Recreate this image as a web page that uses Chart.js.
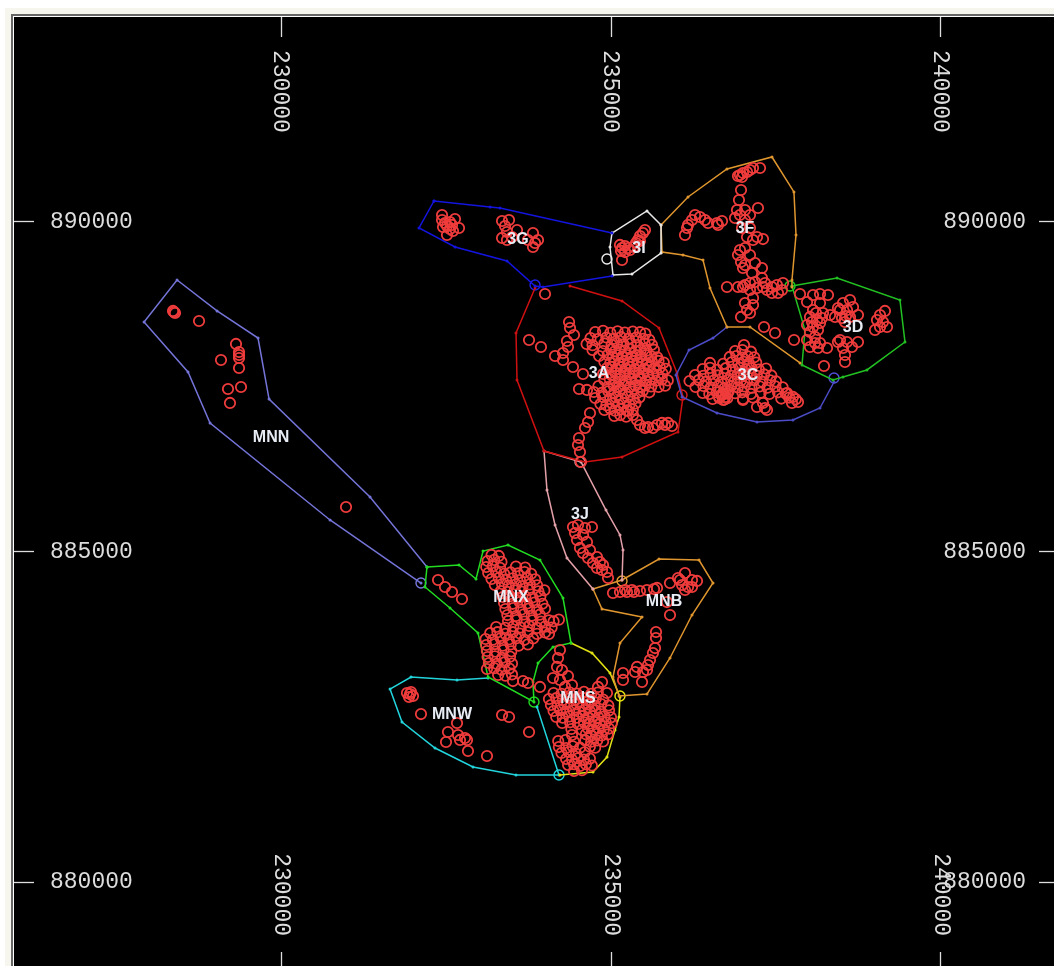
<!DOCTYPE html>
<html>
<head>
<meta charset="utf-8">
<title>Zones</title>
<script src="https://cdn.jsdelivr.net/npm/chart.js@4"></script>
<style>
html, body { margin: 0; height: 100%; background: #fff; overflow: hidden; }
#edge { position: absolute; left: 5px; top: 8px; width: 1100px; height: 1000px; background: #f6f6ee; }
#frame { position: absolute; left: 11px; top: 14px; width: 1100px; height: 1000px; background: #fff; border-left: 2px solid #666; border-top: 2px solid #666; }
#map { position: absolute; left: 14px; top: 17px; background: #000; filter: blur(0.4px); }
</style>
</head>
<body>
<div id="edge"></div>
<div id="frame"></div>
<canvas id="map" width="1045" height="955" style="width:1045px;height:955px"></canvas>
<script>
// Grid ticks (metres)
const eastTicks = [230000, 235000, 240000];
const northTicks = [880000, 885000, 890000];

// Zone labels
const zoneNames = ['3G', '3I', '3F', '3D', '3A', '3C', '3J', 'MNN', 'MNX', 'MNB', 'MNS', 'MNW'];
const zoneEast = [233591, 235424, 237030, 238667, 234818, 237076, 234530, 229849, 233485, 235803, 234500, 232591];
const zoneNorth = [889727, 889591, 889894, 888394, 887697, 887667, 885561, 886727, 884303, 884242, 882773, 882530];

// Zone outlines
const line3G = [[232318,890318],[233167,890227],[233318,890212],[235015,889833]];
const line3Gb = [[235015,889182],[233970,889015],[233849,889030],[233424,889409],[232637,889621],[232091,889909],[232318,890318]];
const line3I = [[235015,889833],[235545,890167],[235758,889955],[235758,889530],[235318,889212],[235030,889197],[234985,889621],[235015,889833]];
const line3F = [[237864,887864],[237106,888409],[236757,888409],[236500,889000],[236394,889424],[236091,889500],[235773,889545],[235758,889955],[236167,890379],[236757,890803],[237439,890985],[237772,890455],[237803,889803],[237742,889121],[237742,889015]];
const line3D = [[237742,889030],[238424,889152],[239378,888818],[239454,888182],[238878,887758],[238515,887652],[238363,887606],[237894,887833],[237939,888364],[237742,889030]];
const line3C = [[236757,888409],[236545,888242],[236182,888061],[235985,887682],[236076,887349],[236606,887106],[237212,886970],[237757,887000],[238167,887182],[238379,887576]];
const line3A = [[233849,889000],[233561,888318],[233576,887606],[233985,886530],[234606,886364],[235167,886439],[236015,886818],[236091,887349],[236000,887712],[235727,888394],[235167,888803],[234379,889030]];
const line3J = [[234727,884439],[234333,884909],[234152,885409],[234030,885939],[233985,886530],[234545,886364],[234924,885636],[235136,885258],[235182,885030],[235167,884576]];
const lineMNB = [[234727,884439],[234864,884136],[235470,884015],[235136,883621],[235030,883106],[235121,882818],[235545,882848],[235894,883394],[236227,884045],[236545,884530],[236333,884879],[235727,884894],[235167,884576],[234727,884439]];
const lineMNX = [[232212,884773],[232697,884803],[232955,884591],[233061,885015],[233440,885106],[233924,884879],[234273,884303],[234394,883621],[234121,883561],[233894,883318],[233818,883030],[233833,882727],[233137,883106],[232985,883773],[232561,884152],[232182,884470],[232212,884773]];
const lineMNS = [[234394,883621],[234712,883470],[234985,883167],[235136,882803],[235121,882500],[235061,882303],[234939,881894],[234727,881667],[234227,881621]];
const lineMNW = [[233137,883091],[232667,883061],[231970,883106],[231652,882924],[231833,882424],[232333,882030],[232909,881742],[233561,881621],[234212,881621],[233879,882652]];
const lineMNN = [[232212,884773],[231349,885833],[229819,887318],[229652,888242],[229031,888652],[228425,889121],[227925,888485],[228591,887727],[228925,886955],[230743,885485],[232121,884530]];

// Shared corner markers
const cornerEast = [233849, 234939, 236076, 234530, 237712, 238379, 235167, 235136, 233833, 234212, 232121];
const cornerNorth = [889045, 889439, 887379, 886364, 889030, 887636, 884561, 882818, 882727, 881621, 884530];
const cornerColors = ['#2020e8', '#eeeeee', '#e02020', '#e8a8b0', '#20d020', '#5050d8', '#e89a30', '#e8e810', '#20d820', '#20d8e0', '#7878e0'];

// Sites, by zone
const sitesMNN = [[228379,888636],[228394,888621],[228364,888652],[228758,888500],[229318,888152],[229364,888030],[229364,887985],[229364,887939],[229091,887909],[229364,887788],[229394,887500],[229197,887470],[229227,887258],[230985,885682]];
const sites3G = [[232440,890106],[232440,890030],[232455,889924],[232515,889803],[232560,890000],[232636,890045],[232697,889909],[232560,889894],[232515,889939],[232591,889955],[232485,889985],[232606,889864],
  [233349,890015],[233455,890030],[233394,889939],[233349,889758],[233424,889848],[233818,889833],[233894,889727],[233818,889621],[233742,889727],[233576,889879],[233500,889773],[233849,889682],[233424,889727]];
const sites3I = [[235136,889652],[235167,889606],[235212,889636],[235258,889606],[235152,889561],[235212,889545],[235288,889576],[235348,889621],[235379,889682],[235409,889727],[235439,889788],[235485,889833],[235515,889879],[235439,889712],[235167,889424]];
const sites3A = [[234000,888909],[233758,888212],[233939,888106],[234364,888485],[234379,888394],[234439,888288],[234333,888197],[234348,888106],[234273,888015],[234152,887970],[234273,887909],[234424,887803],[234576,887697],[234515,887470],[234636,887455],
  [234682,887106],[234652,886970],[234606,886879],[234515,886727],[234500,886621],[234530,886515],[234545,886364],
  [235333,887076],[235439,886924],[235561,886894],[235697,886924],[235818,886924],[235924,886909],[235515,886879],[235636,886879],[235773,886955],[235864,886955],[235394,887000],[235258,887136],
  [234760,888333],[234880,888350],[234990,888320],[235100,888345],[235210,888325],[235330,888340],[235440,888330],[235520,888310],
  [234690,888242],[234800,888225],[234930,888250],[235040,888230],[235150,888255],[235270,888235],[235380,888250],[235490,888230],[235580,888215],
  [234630,888152],[234720,888135],[234900,888160],[235010,888140],[235090,888165],[235190,888145],[235300,888160],[235400,888135],[235510,888155],[235620,888140],
  [234720,888061],[234880,888045],[235000,888070],[235060,888040],[235130,888065],[235210,888050],[235290,888075],[235370,888045],[235450,888060],[235540,888050],[235650,888065],
  [234820,887970],[234950,887985],[235030,887955],[235100,887980],[235170,887960],[235240,887985],[235310,887955],[235380,887980],[235450,887960],[235530,887985],[235610,887965],[235700,887950],
  [234900,887879],[234990,887865],[235050,887890],[235120,887860],[235190,887885],[235260,887865],[235330,887895],[235400,887870],[235470,887885],[235540,887860],[235620,887880],[235720,887895],[235800,887870],
  [234940,887788],[235010,887805],[235080,887775],[235150,887800],[235220,887780],[235290,887805],[235360,887770],[235430,887795],[235500,887775],[235570,887800],[235650,887780],[235740,887795],[235830,887775],
  [234880,887697],[235000,887685],[235070,887710],[235140,887680],[235210,887705],[235280,887690],[235350,887710],[235420,887680],[235490,887705],[235560,887685],[235640,887700],[235710,887680],[235780,887705],
  [234900,887606],[234980,887620],[235060,887590],[235130,887615],[235220,887595],[235300,887620],[235380,887600],[235450,887615],[235530,887590],[235590,887610],[235680,887595],[235770,887615],[235860,887600],
  [234810,887515],[234950,887500],[235040,887525],[235120,887505],[235200,887530],[235290,887500],[235370,887520],[235440,887505],[235520,887525],[235610,887510],[235720,887500],[235820,887520],
  [234740,887424],[234860,887410],[234960,887435],[235050,887415],[235130,887440],[235220,887410],[235310,887430],[235400,887415],[235480,887440],[235580,887420],
  [234760,887333],[234880,887350],[234990,887320],[235070,887345],[235160,887325],[235250,887350],[235340,887320],[235430,887340],
  [234840,887242],[234930,887225],[235020,887250],[235110,887230],[235190,887255],[235280,887235],[235370,887250],
  [234900,887152],[234990,887170],[235060,887140],[235150,887165],[235240,887145],[235330,887160],
  [235050,887061],[235140,887075],[235230,887050]];
const sites3C = [[237015,888136],[236880,888045],[236990,888060],[237120,888035],[236800,887955],[236900,887970],[236990,887945],[237070,887965],[237170,887950],
  [236500,887864],[236700,887850],[236830,887875],[236930,887855],[237010,887880],[237090,887860],[237200,887870],
  [236390,887773],[236500,887790],[236610,887760],[236740,887785],[236850,887765],[236950,887790],[237040,887770],[237130,887785],[237240,887765],[237350,887780],
  [236273,887682],[236400,887670],[236510,887695],[236620,887675],[236720,887700],[236820,887670],[236920,887690],[237010,887675],[237110,887695],[237210,887670],[237320,887690],[237430,887675],
  [236190,887591],[236330,887605],[236440,887580],[236560,887600],[236670,887575],[236770,887605],[236870,887585],[236970,887600],[237060,887580],[237170,887605],[237290,887580],[237410,887600],[237500,887585],
  [236280,887500],[236400,887515],[236510,887490],[236620,887510],[236720,887485],[236820,887515],[236920,887495],[237020,887510],[237130,887490],[237250,887510],[237370,887490],[237490,887510],[237600,887495],
  [236390,887409],[236490,887395],[236600,887420],[236690,887400],[236780,887425],[236880,887405],[236990,887420],[237120,887395],[237270,887415],[237400,887395],[237530,887420],[237650,887400],
  [236540,887318],[236640,887335],[236700,887305],[236760,887330],[237000,887318],[237150,887340],[237580,887325],[237700,887340],[237800,887315],
  [236680,887380],[236730,887350],[236700,887400],[236760,887400],[236640,887350],[236720,887310],
  [237303,887258],[237333,887182],[237212,887197],[237364,887152],[237757,887349],[237833,887273],[237742,887258],[237667,887409],[237000,887303]];
const sites3F = [[236954,890712],[237000,890742],[236924,890697],[237061,890758],[236985,890682],[237152,890818],[237258,890818],[237106,890788],
  [236970,890485],[236939,890333],[236909,890182],[236954,890106],[237030,890182],[237106,890106],[237227,890212],[236879,890061],[237030,890030],[236985,889909],[237106,889909],[237061,889773],[237212,889773],[237303,889742],[237152,889727],
  [236273,890106],[236348,890076],[236424,890030],[236227,890030],[236167,889955],[236121,889803],[236152,889909],[236470,889985],[236606,889985],[236682,890015],[236621,889955],
  [236954,889576],[237030,889606],[236924,889500],[237106,889500],[236970,889394],[237030,889348],[237182,889379],[237288,889303],[237136,889227],[237000,889303],
  [236757,889015],[236924,889015],[237030,889045],[237106,889076],[237182,889091],[237288,889152],[237303,889015],[237212,889000],[237364,888970],[237439,888924],[237530,888924],[237515,889045],[237606,889076],[237591,888970],[237106,888970],[237000,889015],[237439,889015],[237333,889076],
  [237152,888848],[237030,888773],[237152,888742],[237106,888621],[236970,888561],[237061,888667],[237318,888409],[237485,888318],[237773,888212]];
const sites3D = [[237864,888909],[237970,888788],[238061,888894],[238167,888909],[238288,888894],[238167,888773],[238621,888818],[238515,888773],[238576,888667],[238470,888667],[238667,888712],[238742,888591],[238621,888561],[238394,888561],[238318,888591],[238212,888621],[238500,888545],[238545,888485],
  [238061,888667],[238015,888561],[238121,888515],[238197,888545],[237970,888439],[238061,888409],[238167,888470],[238015,888333],[238091,888258],[238167,888167],[238273,888091],[238015,888106],[238091,888167],[237970,888212],[238136,888091],
  [238470,888212],[238576,888182],[238742,888182],[238651,888106],[238515,888091],[238545,887985],[238545,887879],[238439,888182],
  [239151,888652],[239076,888591],[239030,888515],[239121,888485],[239182,888409],[239000,888364],[239076,888409],[238227,887818],
  [238106,888621],[238045,888485],[238136,888364],[238439,888697],[238560,888576]];
const sites3J = [[234424,885379],[234500,885409],[234606,885364],[234712,885379],[234455,885288],[234576,885258],[234485,885182],[234636,885152],[234530,885061],[234682,885030],[234576,884985],[234652,884909],[234788,884924],[234833,884848],[234727,884833],[234879,884803],[234939,884697],[234788,884758],[234864,884727],[234955,884606]];
const sitesMNB = [[235030,884379],[235136,884394],[235242,884394],[235348,884394],[235439,884409],[235545,884424],[235652,884439],[235697,884455],[235212,884424],[235318,884424],
  [235894,884530],[236015,884606],[236121,884682],[236227,884576],[236303,884561],[236076,884500],[236167,884470],[236121,884424],[235894,884045],[235848,884242],[236045,884576],[236227,884470],
  [235682,883788],[235682,883697],[235667,883545],[235636,883470],[235591,883364],[235561,883288],[235394,883258],[235364,883182],[235485,883182],[235470,883030],[235182,883167],[235182,883061],[235545,883212]];
const sitesMNW = [[231909,882864],[231955,882848],[232000,882818],[231939,882803],[231970,882879],[232121,882545],[233349,882530],[233455,882500],[233758,882273],[233121,881909],[232667,882409],[232530,882273],[232500,882121],[232682,882227],[232712,882152],[232818,882152],[232833,881985],[232788,882182]];
const sitesMNX = [[233190,884955],[233300,884940],[233130,884864],[233230,884880],[233340,884850],
  [233110,884773],[233210,884785],[233320,884760],[233560,884780],[233700,884765],
  [233140,884682],[233260,884695],[233380,884670],[233480,884690],[233590,884675],[233690,884695],[233790,884670],
  [233190,884591],[233300,884605],[233410,884580],[233510,884600],[233620,884575],[233730,884605],[233850,884585],
  [233240,884500],[233350,884515],[233450,884490],[233560,884510],[233660,884485],[233770,884510],[233880,884495],
  [233330,884409],[233430,884395],[233540,884420],[233640,884400],[233760,884425],[233900,884405],[233990,884420],
  [233360,884318],[233470,884330],[233590,884305],[233700,884325],[233810,884310],[233930,884330],
  [233380,884227],[233510,884215],[233620,884240],[233730,884220],[233840,884235],[233960,884215],
  [233400,884136],[233520,884150],[233640,884125],[233760,884145],[233880,884125],[234000,884140],
  [233430,884045],[233560,884030],[233680,884055],[233800,884035],[233920,884050],
  [233440,883955],[233570,883970],[233690,883945],[233810,883965],[233940,883945],[234060,883965],[234130,883950],[234210,883975],
  [233260,883864],[233400,883850],[233520,883875],[233630,883855],[233760,883880],[233880,883850],[234000,883870],[234100,883855],
  [233170,883773],[233280,883785],[233400,883760],[233510,883785],[233620,883765],[233740,883785],[233880,883760],[234000,883780],[234060,883760],
  [233100,883682],[233210,883670],[233330,883695],[233450,883675],[233570,883695],[233690,883670],[233820,883690],
  [233110,883591],[233240,883605],[233360,883580],[233480,883600],[233600,883580],[233740,883600],
  [233120,883500],[233250,883490],[233370,883515],[233490,883495],
  [233130,883409],[233240,883420],[233350,883395],[233470,883415],
  [233150,883318],[233270,883305],[233390,883330],[233500,883310],
  [233120,883227],[233230,883240],[233340,883215],[233460,883235],
  [233290,883136],[233400,883125],[233500,883145],
  [233515,883045],[233667,883045],[233742,883015],[233924,882955],
  [232379,884576],[232485,884470],[232591,884394],[232742,884288]];
const sitesMNS = [[234227,883515],[234197,883394],[234182,883258],[234258,883212],[234121,883091],[234348,883121],[234227,883061],[234409,882985],[234303,882955],[234864,883030],[234803,882955],[234939,882864],
  [234130,882864],[234250,882850],[234370,882875],[234480,882855],[234590,882880],[234700,882850],[234800,882870],
  [234060,882773],[234170,882785],[234270,882760],[234370,882785],[234470,882765],[234570,882790],[234670,882760],[234770,882780],[234880,882765],
  [234090,882682],[234190,882670],[234290,882695],[234390,882675],[234480,882695],[234570,882670],[234660,882690],[234750,882670],[234850,882695],[234960,882675],
  [234130,882591],[234230,882605],[234330,882580],[234430,882600],[234520,882580],[234600,882605],[234680,882585],[234760,882600],[234850,882580],[234970,882600],
  [234170,882500],[234270,882490],[234370,882510],[234480,882490],[234580,882515],[234660,882490],[234730,882510],[234810,882490],[234900,882510],[235000,882495],
  [234260,882409],[234380,882420],[234500,882395],[234590,882420],[234670,882400],[234750,882425],[234830,882400],[234920,882420],[235010,882405],
  [234400,882318],[234560,882305],[234650,882330],[234730,882310],[234810,882330],[234890,882305],[234970,882325],
  [234409,882227],[234620,882240],[234700,882215],[234780,882240],[234860,882220],[234950,882235],
  [234200,882136],[234310,882150],[234440,882125],[234610,882145],[234700,882125],[234790,882145],[234880,882130],
  [234210,882045],[234320,882030],[234420,882055],[234530,882035],[234680,882050],[234760,882035],
  [234250,881955],[234360,881970],[234470,881945],[234600,881965],
  [234320,881864],[234410,881850],[234500,881875],[234590,881855],[234680,881870],
  [234350,881773],[234440,881785],[234530,881760],[234620,881785],[234710,881765],
  [234440,881682],[234560,881695]];

const outlines = [
  { pts: line3G, color: '#1414e0' }, { pts: line3Gb, color: '#1414e0' }, { pts: line3I, color: '#e8e8e8' },
  { pts: line3F, color: '#e0962e' }, { pts: line3D, color: '#22c022' }, { pts: line3C, color: '#4c4cc8' },
  { pts: line3A, color: '#d01010' }, { pts: line3J, color: '#e4a0a8' }, { pts: lineMNB, color: '#e0962e' },
  { pts: lineMNX, color: '#22dc22' }, { pts: lineMNS, color: '#e0e014' }, { pts: lineMNW, color: '#22d4dc' },
  { pts: lineMNN, color: '#7474d8' }
];

const allSites = [].concat(sitesMNN, sites3G, sites3I, sites3A, sites3C, sites3F, sites3D, sites3J, sitesMNB, sitesMNW, sitesMNX, sitesMNS);
const toXY = p => ({ x: p[0], y: p[1] });

const datasets = [{
  data: allSites.map(toXY),
  showLine: false,
  pointRadius: 5.2,
  pointBorderWidth: 1.8,
  pointBorderColor: '#f03c3c',
  pointBackgroundColor: 'transparent'
}];
outlines.forEach(o => datasets.push({
  data: o.pts.map(toXY),
  showLine: true,
  borderColor: o.color,
  borderWidth: 1.5,
  tension: 0,
  pointRadius: 1.5,
  pointBorderWidth: 0,
  pointBackgroundColor: o.color
}));
datasets.push({
  data: cornerEast.map((e, i) => ({ x: e, y: cornerNorth[i] })),
  showLine: false,
  pointRadius: 5,
  pointBorderWidth: 1.4,
  pointBorderColor: cornerColors,
  pointBackgroundColor: 'transparent'
});

// Zone names, placed through the scales
const zoneLabels = {
  id: 'zoneLabels',
  afterDatasetsDraw(chart) {
    const c = chart.ctx;
    c.save();
    c.font = 'bold 16px "Liberation Sans"';
    c.fillStyle = '#e8edf5';
    c.textAlign = 'center';
    c.textBaseline = 'middle';
    zoneNames.forEach((n, i) => {
      c.fillText(n, chart.scales.x.getPixelForValue(zoneEast[i]), chart.scales.y.getPixelForValue(zoneNorth[i]));
    });
    c.restore();
  }
};

const tickFont = { family: '"Liberation Mono"', size: 23, lineHeight: 1.2 };
const tickGrid = { drawOnChartArea: false, drawTicks: true, tickLength: -20, tickColor: '#dddddd', tickWidth: 1.3 };
const eastRange = { min: 225954.5, max: 241787.9 };
const northRange = { min: 878636.4, max: 893106 };

// Axes take no room: the map fills the canvas and the ticks sit inside it.
// mirror keeps the labels out of the zero-size axis clip box.
function zeroBox(s) {
  s.paddingLeft = 0; s.paddingRight = 0; s.paddingTop = 0; s.paddingBottom = 0;
  if (s.isHorizontal()) s.height = 0; else s.width = 0;
}
function eastAxis(position, padding, offset) {
  return {
    type: 'linear', position: position, min: eastRange.min, max: eastRange.max,
    grid: tickGrid, border: { display: false },
    afterBuildTicks: s => { s.ticks = eastTicks.map(v => ({ value: v })); },
    afterFit: zeroBox,
    ticks: {
      autoSkip: false, mirror: true, minRotation: -90, maxRotation: -90, padding: padding, labelOffset: offset,
      color: '#dddddd', font: tickFont, callback: v => String(v)
    }
  };
}
function northAxis(position, padding) {
  return {
    type: 'linear', position: position, min: northRange.min, max: northRange.max,
    grid: tickGrid, border: { display: false },
    afterBuildTicks: s => { s.ticks = northTicks.map(v => ({ value: v })); },
    afterFit: zeroBox,
    ticks: { autoSkip: false, mirror: true, padding: padding, color: '#dddddd', font: tickFont, callback: v => String(v) }
  };
}

new Chart(document.getElementById('map').getContext('2d'), {
  type: 'scatter',
  data: { datasets: datasets },
  plugins: [zoneLabels],
  options: {
    responsive: false,
    animation: false,
    layout: { padding: 0, autoPadding: false },
    plugins: { legend: { display: false }, tooltip: { enabled: false } },
    scales: {
      x: eastAxis('top', 33, -1),
      x2: eastAxis('bottom', 36, -27.6),
      y: northAxis('left', 36),
      y2: northAxis('right', -33)
    }
  }
});
</script>
</body>
</html>
